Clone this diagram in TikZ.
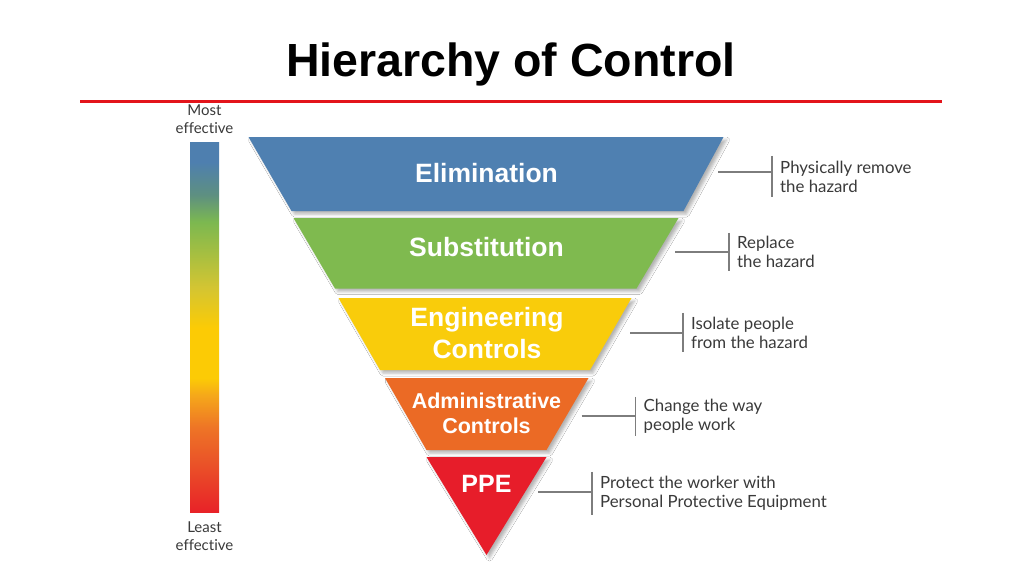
\documentclass[tikz,border=0pt]{standalone}
\usepackage{fontspec}
\usepackage{xcolor}
\usepackage{tikz}
\usetikzlibrary{positioning,calc}
\usetikzlibrary{shadows.blur}

\setmainfont{Liberation Sans}
\newfontfamily\notefont[Ligatures=NoCommon]{Lato}

\definecolor{elimBlue}{HTML}{4F80B1}
\definecolor{substGreen}{HTML}{7FBA4F}
\definecolor{engYellow}{HTML}{F9CC0B}
\definecolor{adminOrange}{HTML}{EB6A25}
\definecolor{ppeRed}{HTML}{E71D2A}
\definecolor{ruleRed}{HTML}{E3141B}
\definecolor{linkGray}{HTML}{7D7D7D}
\definecolor{noteGray}{HTML}{3A3A3A}

\definecolor{barBlue}{HTML}{4E7FAF}
\definecolor{barTeal}{HTML}{5E9080}
\definecolor{barGreen}{HTML}{7CB850}
\definecolor{barLime}{HTML}{A8BF40}
\definecolor{barOlive}{HTML}{D4C532}
\definecolor{barYellow}{HTML}{FCCB05}
\definecolor{barAmber}{HTML}{F5A81A}
\definecolor{barOrange}{HTML}{EE7426}
\definecolor{barOrangeRed}{HTML}{EA5428}
\definecolor{barRed}{HTML}{E82228}

\pgfdeclareverticalshading{effectbar}{100bp}{color(0bp)=(barRed); color(25bp)=(barRed); color(31.8bp)=(barOrangeRed); color(36.4bp)=(barOrange); color(40.8bp)=(barAmber); color(43.1bp)=(barYellow); color(49.9bp)=(barYellow); color(55.3bp)=(barOlive); color(59.7bp)=(barLime); color(64.2bp)=(barGreen); color(67.8bp)=(barTeal); color(72.3bp)=(barBlue); color(100bp)=(barBlue)}

\begin{document}
\begin{tikzpicture}[x=1pt,y=-1pt,
    band/.style={blur shadow={shadow xshift=3pt,shadow yshift=-3pt,shadow blur radius=3pt,shadow opacity=30}},
    bandtext/.style={text=white,font=\bfseries\fontsize{26.5}{31.6}\selectfont,align=center,inner sep=0pt},
    note/.style={font=\notefont\fontsize{16.8}{18.8}\selectfont,text=noteGray,align=left,anchor=west,inner xsep=8pt,inner ysep=0pt,minimum height=40pt},
    endnote/.style={font=\notefont\fontsize{15}{18}\selectfont,text=noteGray,align=center,inner sep=0pt},
    link/.style={draw=linkGray,line width=1.3pt}]

    \useasboundingbox (0,0) rectangle (1024,576);
    \fill[white] (0,0) rectangle (1024,576);

    \node[font=\bfseries\fontsize{46.5}{50}\selectfont] (title) at (510.9,64.7) {Hierarchy of Control};
    \draw[ruleRed,line width=3pt] (80,101) -- (942,101);

    % effectiveness bar
    \node[shade,shading=effectbar,minimum width=29pt,minimum height=370pt,inner sep=0pt] (bar) at (204.5,327) {};
    \node[endnote] (most) [above=8pt of bar] {Most\\effective};
    \node[endnote] (least) [below=9pt of bar] {Least\\effective};

    % the inverted pyramid
    \fill[elimBlue,band] (248.5,137) -- (723.5,137) -- (683.5,211) -- (291.5,211) -- cycle;
    \fill[substGreen,band] (293.5,218) -- (678.5,218) -- (636.5,288.5) -- (335,288.5) -- cycle;
    \fill[engYellow,band] (338.5,298) -- (631.5,298) -- (590,370) -- (380,370) -- cycle;
    \fill[adminOrange,band] (385,378) -- (588.5,378) -- (546.5,450) -- (426.5,450) -- cycle;
    \fill[ppeRed,band] (426.5,457) -- (546.5,457) -- (486.5,555) -- cycle;

    \node[bandtext] (elim) at (486.5,173) {Elimination};
    \node[bandtext] (subst) at (486.5,247) {Substitution};
    \node[bandtext] (eng) at (487,333) {Engineering\\Controls};
    \node[bandtext,font=\bfseries\fontsize{21.5}{25}\selectfont] (admin) at (486.5,413) {Administrative\\Controls};
    \node[bandtext,font=\bfseries\fontsize{25}{30}\selectfont] (ppe) at (486.5,484.3) {PPE};

    % notes on the right
    \node[note,minimum height=41pt] (elimNote) at (772,176.5) {Physically remove\\the hazard};
    \node[note,minimum height=38pt] (substNote) at (729,252) {Replace\\the hazard};
    \node[note,minimum height=39pt] (engNote) at (683,332.5) {Isolate people\\from the hazard};
    \node[note,minimum height=39pt] (adminNote) at (635.5,416.5) {Change the way\\people work};
    \node[note,minimum height=43pt] (ppeNote) at (592,493.5) {Protect the worker with\\Personal Protective Equipment};

    \coordinate (elimR) at (718,172);
    \coordinate (substR) at (675,252);
    \coordinate (engR) at (630,333);
    \coordinate (adminR) at (581.5,416);
    \coordinate (ppeR) at (538,492);

    \draw[link] (elimNote.north west) -- (elimNote.south west);
    \draw[link] (substNote.north west) -- (substNote.south west);
    \draw[link] (engNote.north west) -- (engNote.south west);
    \draw[link] (adminNote.north west) -- (adminNote.south west);
    \draw[link] (ppeNote.north west) -- (ppeNote.south west);

    \draw[link] (elimR) -- (elimR -| elimNote.west);
    \draw[link] (substR) -- (substR -| substNote.west);
    \draw[link] (engR) -- (engR -| engNote.west);
    \draw[link] (adminR) -- (adminR -| adminNote.west);
    \draw[link] (ppeR) -- (ppeR -| ppeNote.west);

\end{tikzpicture}
\end{document}
